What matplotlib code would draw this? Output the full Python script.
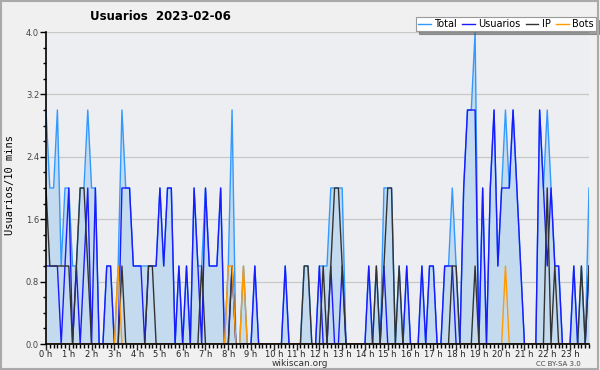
import matplotlib
matplotlib.use("Agg")
import matplotlib.pyplot as plt
from matplotlib.patches import Rectangle
from matplotlib.ticker import MultipleLocator

# 10-minute slots over the day (144 points)
total = [3, 2, 2, 3, 1, 2,  2, 1, 1, 2, 2, 3,  2, 2, 0, 0, 1, 1,  0, 1, 3, 2, 2, 1,
         1, 1, 1, 1, 1, 1,  2, 1, 2, 2, 0, 1,  0, 1, 0, 2, 1, 1,  2, 1, 1, 1, 2, 0,
         1, 3, 0, 0, 1, 0,  0, 1, 0, 0, 0, 0,  0, 0, 0, 1, 0, 0,  0, 0, 1, 1, 0, 0,
         1, 1, 1, 2, 2, 2,  2, 0, 0, 0, 0, 0,  0, 1, 0, 1, 0, 2,  2, 2, 0, 1, 0, 1,
         0, 0, 0, 1, 0, 1,  1, 0, 0, 1, 1, 2,  1, 0, 2, 3, 3, 4,  0, 2, 0, 2, 3, 1,
         2, 3, 2, 3, 2, 1,  0, 0, 0, 0, 3, 2,  3, 2, 1, 1, 0, 0,  0, 1, 0, 1, 0, 2]
usuarios = [1, 1, 1, 1, 0, 1,  2, 0, 1, 0, 1, 2,  0, 2, 0, 0, 1, 1,  0, 0, 2, 2, 2, 1,
            1, 1, 0, 1, 1, 1,  2, 1, 2, 2, 0, 1,  0, 1, 0, 2, 1, 0,  2, 1, 1, 1, 2, 0,
            0, 1, 0, 0, 0, 0,  0, 1, 0, 0, 0, 0,  0, 0, 0, 1, 0, 0,  0, 0, 0, 0, 0, 0,
            1, 0, 0, 1, 0, 0,  1, 0, 0, 0, 0, 0,  0, 1, 0, 0, 0, 1,  0, 0, 0, 0, 0, 1,
            0, 0, 0, 1, 0, 1,  1, 0, 0, 1, 1, 1,  0, 0, 2, 3, 3, 3,  0, 2, 0, 2, 3, 1,
            2, 2, 2, 3, 2, 1,  0, 0, 0, 0, 3, 2,  1, 2, 1, 1, 0, 0,  0, 1, 0, 0, 0, 1]
ip = [2, 1, 1, 1, 1, 1,  1, 0, 1, 2, 2, 1,  0, 0, 0, 0, 0, 0,  0, 0, 1, 0, 0, 0,
      0, 0, 0, 1, 1, 0,  0, 0, 0, 0, 0, 0,  0, 0, 0, 0, 0, 1,  0, 0, 0, 0, 0, 0,
      0, 1, 0, 0, 0, 0,  0, 0, 0, 0, 0, 0,  0, 0, 0, 0, 0, 0,  0, 0, 1, 1, 0, 0,
      0, 1, 0, 1, 2, 2,  1, 0, 0, 0, 0, 0,  0, 0, 0, 1, 0, 1,  2, 2, 0, 1, 0, 0,
      0, 0, 0, 0, 0, 0,  0, 0, 0, 0, 0, 1,  1, 0, 0, 0, 0, 1,  0, 0, 0, 0, 0, 0,
      0, 0, 0, 0, 0, 0,  0, 0, 0, 0, 0, 0,  2, 0, 1, 0, 0, 0,  0, 0, 0, 1, 0, 1]
bots = [0, 0, 0, 0, 0, 0,  0, 0, 0, 0, 0, 0,  0, 0, 0, 0, 0, 0,  0, 1, 0, 0, 0, 0,
        0, 0, 0, 0, 0, 0,  0, 0, 0, 0, 0, 0,  0, 0, 0, 0, 0, 0,  0, 0, 0, 0, 0, 0,
        1, 1, 0, 0, 1, 0,  0, 0, 0, 0, 0, 0,  0, 0, 0, 0, 0, 0,  0, 0, 0, 0, 0, 0,
        0, 0, 0, 0, 0, 0,  0, 0, 0, 0, 0, 0,  0, 0, 0, 0, 0, 0,  0, 0, 0, 0, 0, 0,
        0, 0, 0, 0, 0, 0,  0, 0, 0, 0, 0, 0,  0, 0, 0, 0, 0, 0,  0, 0, 0, 0, 0, 0,
        0, 1, 0, 0, 0, 0,  0, 0, 0, 0, 0, 0,  0, 0, 0, 0, 0, 0,  0, 0, 0, 0, 0, 0]
hour_labels = ["%d h" % h for h in range(24)]
y_ticks = [0.0, 0.8, 1.6, 2.4, 3.2, 4.0]


def main():
    slots = list(range(len(total)))

    fig = plt.figure(figsize=(6, 3.7), dpi=100, facecolor="#f0f0f0")
    ax = fig.add_axes([46 / 600, 26 / 370, 543 / 600, 312 / 370])
    ax.set_facecolor("#eceef1")

    ax.fill_between(slots, total, 0, color="#c4dbef", lw=0)
    ax.plot(slots, total, color="#3399ff", lw=1.0, label="Total")
    ax.plot(slots, usuarios, color="#1a1aff", lw=1.0, label="Usuarios")
    ax.plot(slots, ip, color="#333333", lw=1.0, label="IP")
    ax.plot(slots, bots, color="#ff9900", lw=1.0, label="Bots")

    ax.set_xlim(0, len(total) - 1)
    ax.set_ylim(0, 4.0)
    ax.set_xticks(range(0, 144, 6))
    ax.set_xticklabels(hour_labels)
    ax.xaxis.set_minor_locator(MultipleLocator(1))
    ax.set_yticks(y_ticks)
    ax.set_yticklabels(["%.1f" % v for v in y_ticks])
    ax.yaxis.set_minor_locator(MultipleLocator(0.2))
    ax.tick_params(axis="x", which="major", length=4, width=1, labelsize=6,
                   pad=0, colors="#222222")
    ax.tick_params(axis="x", which="minor", length=3, width=1)
    ax.tick_params(axis="y", which="major", length=4, width=1, labelsize=6,
                   pad=1, labelcolor="#444444")
    ax.tick_params(axis="y", which="minor", length=2, width=1)
    ax.grid(axis="y", color="#c8c8c8", lw=0.9)
    ax.set_axisbelow(True)
    for side in ("top", "right"):
        ax.spines[side].set_visible(False)
    for side in ("left", "bottom"):
        ax.spines[side].set_linewidth(1.2)

    fig.text(160 / 600, 1 - 17 / 370, "Usuarios  2023-02-06", ha="center",
             va="center", fontsize=8.5, fontweight="bold")
    fig.text(10 / 600, 0.5, "Usuarios/10 mins", rotation=90, ha="center",
             va="center", fontsize=7.5, family="DejaVu Sans Mono")
    fig.text(0.5, 1 - 364 / 370, "wikiscan.org", ha="center", va="center",
             fontsize=6.5, color="#333333")
    fig.text(558 / 600, 1 - 364 / 370, "CC BY-SA 3.0", ha="center", va="center",
             fontsize=5, color="#444444")

    leg = ax.legend(loc="upper right", bbox_to_anchor=(596 / 600, 1 - 17 / 370),
                    bbox_transform=fig.transFigure, ncol=4, fontsize=7,
                    frameon=True, fancybox=False, shadow=True, framealpha=1,
                    handlelength=1.3, handletextpad=0.4, columnspacing=0.5,
                    borderpad=0.2, borderaxespad=0)
    leg.get_frame().set_edgecolor("#999999")
    leg.get_frame().set_linewidth(0.8)

    fig.patches.append(Rectangle((0.002, 0.003), 0.994, 0.993,
                                 transform=fig.transFigure, fill=False,
                                 edgecolor="#aaaaaa", lw=1.5))
    fig.savefig("out.png", dpi=100, facecolor=fig.get_facecolor())


if __name__ == '__main__':
    main()
